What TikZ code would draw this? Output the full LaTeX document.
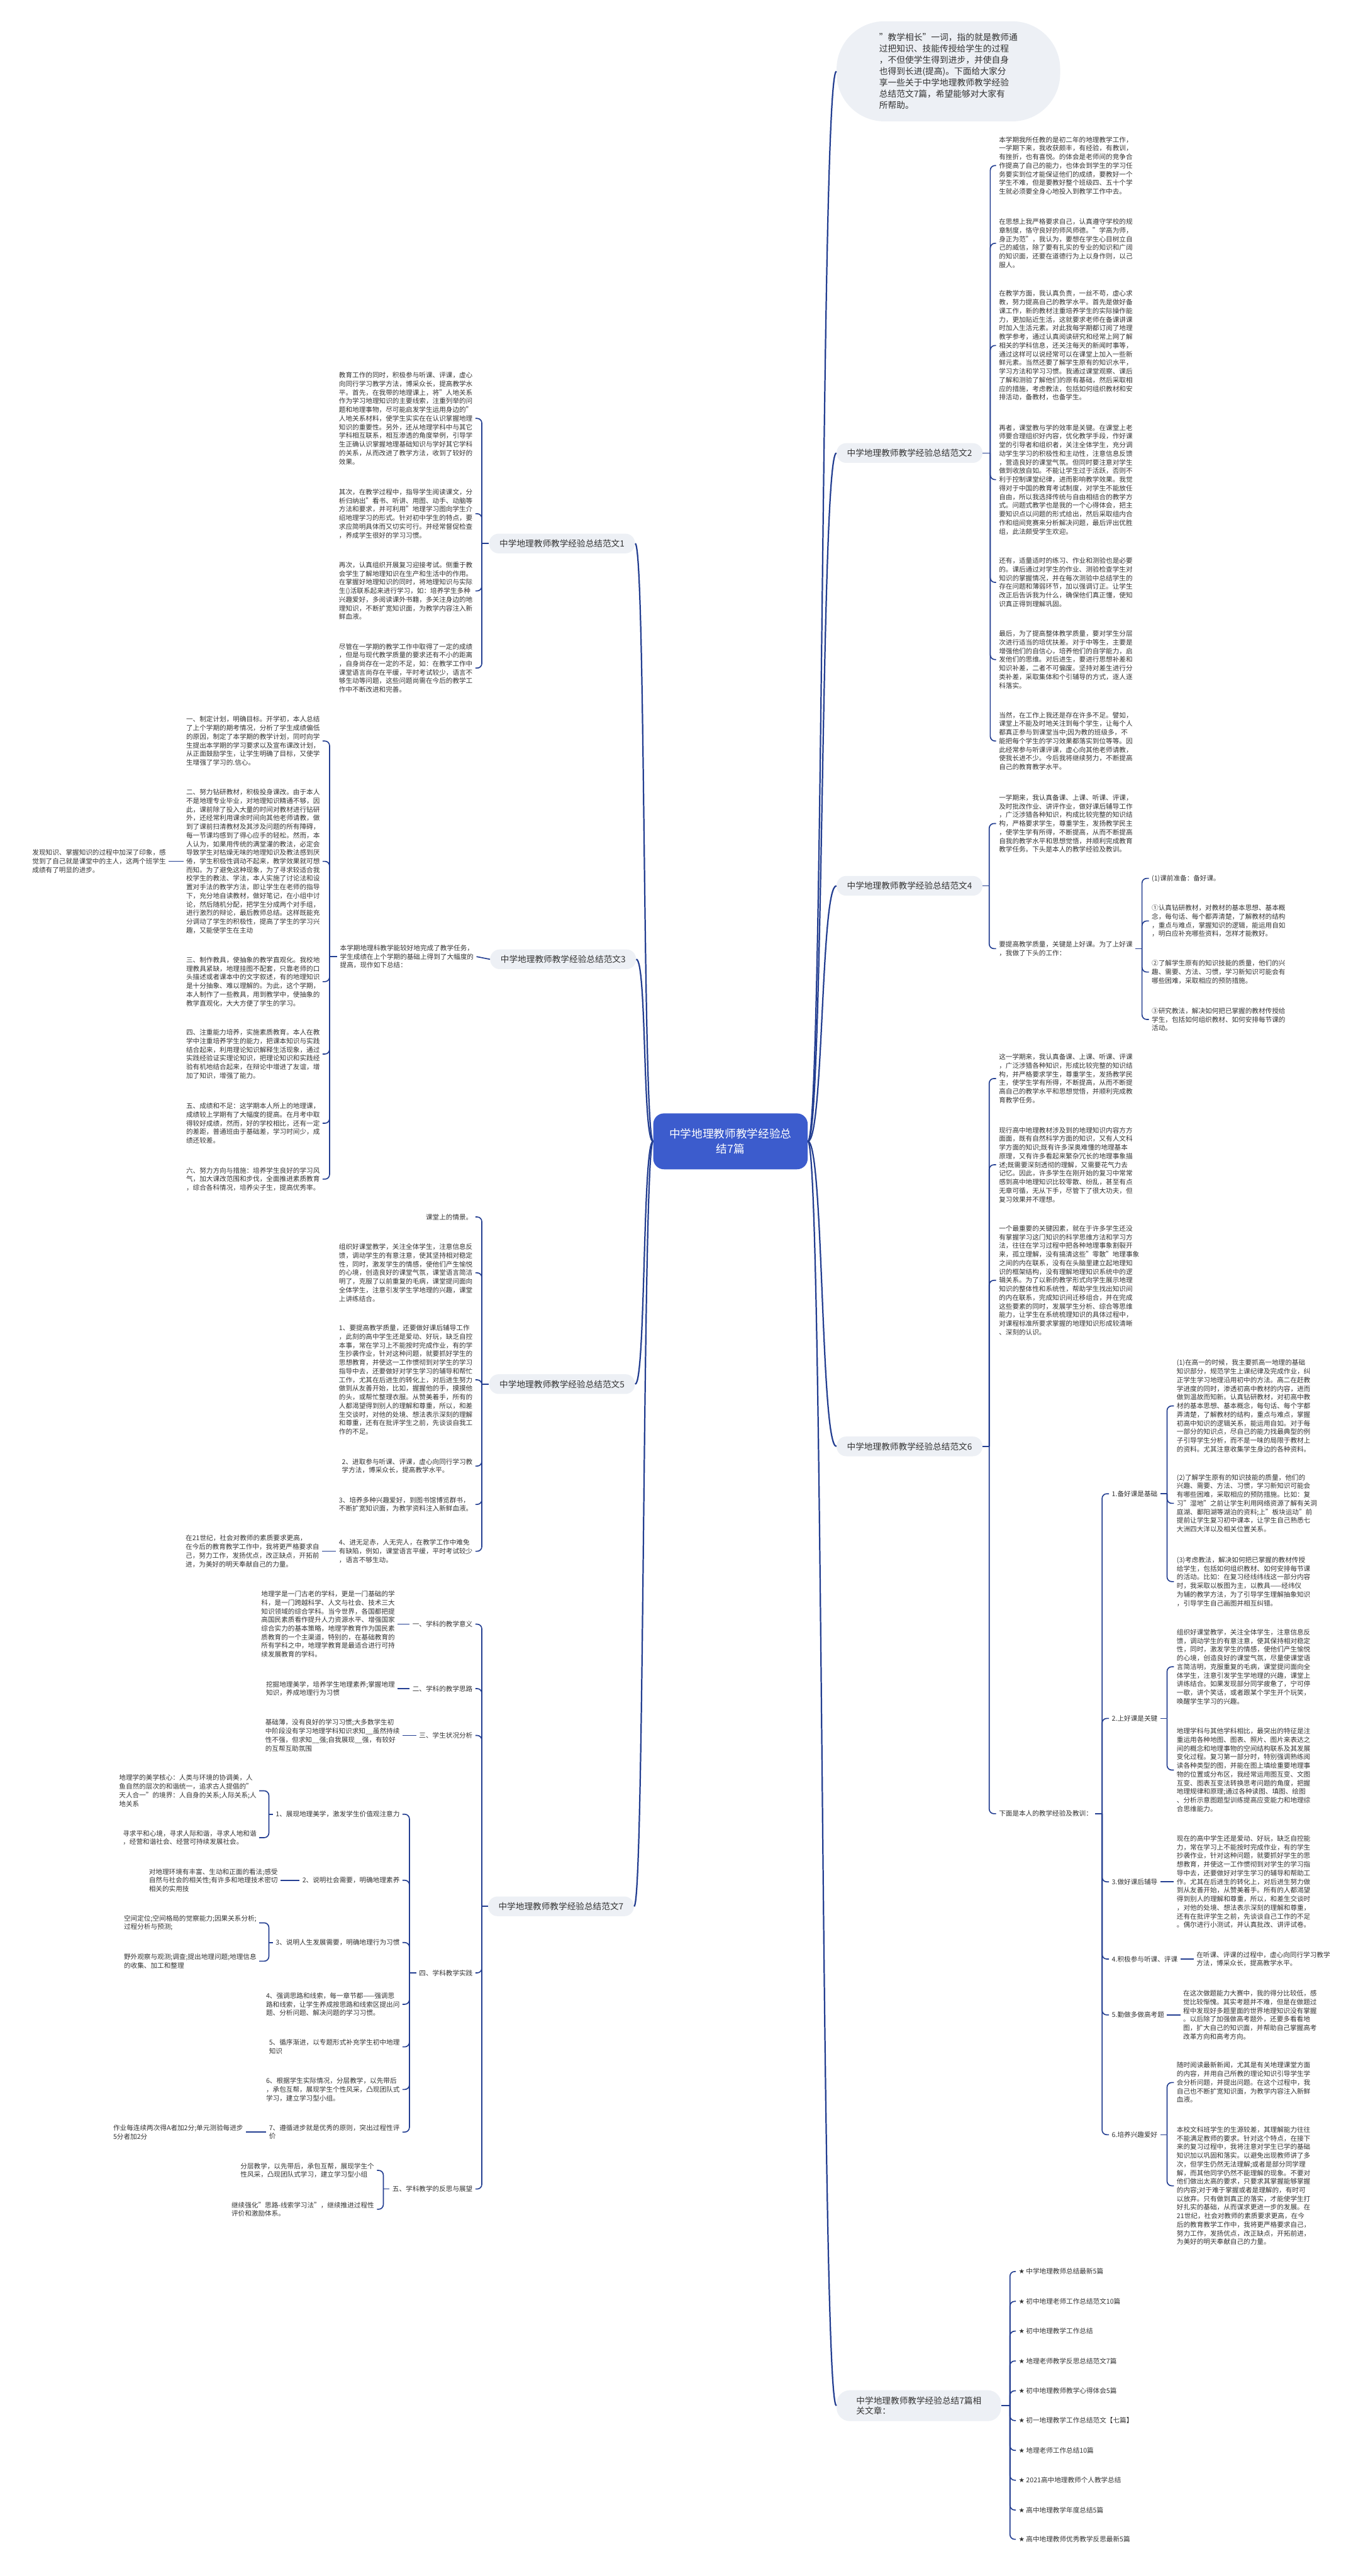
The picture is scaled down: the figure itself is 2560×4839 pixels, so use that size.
\documentclass[tikz,border=0pt]{standalone}
\usepackage{fontspec}
\setmainfont{Noto Sans CJK SC}
\newfontfamily\starfont{DejaVu Sans}
\definecolor{linkblue}{RGB}{35,62,145}
\definecolor{rootblue}{RGB}{60,92,205}
\definecolor{pillgray}{RGB}{237,240,245}
\definecolor{inkgray}{RGB}{51,51,51}
\tikzset{
  para/.style={font=\fontsize{7.14pt}{9.24pt}\selectfont, text=inkgray, align=left, inner xsep=0.1cm, inner ysep=0pt},
  parar/.style={para, align=right},
  topic/.style={font=\fontsize{9.18pt}{11pt}\selectfont, text=inkgray, fill=pillgray, rounded corners=0.36cm,
    minimum width=5.48cm, minimum height=0.74cm, inner xsep=0.2cm},
  link/.style={draw=linkblue, line width=1.1pt, rounded corners=5pt},
  trunk/.style={draw=linkblue, line width=1.5pt},
}
\begin{document}
\begin{tikzpicture}[x=0.02cm,y=-0.02cm]
\useasboundingbox[fill=white] (0,0) rectangle (2560,4839);

% root and intro
\node[fill=rootblue, text=white, rounded corners=0.4cm, minimum width=5.8cm, minimum height=2.1cm, align=center,
  font=\fontsize{11.9pt}{16.4pt}\selectfont] (root) at (1372,2144) {中学地理教师教学经验总\\结7篇};
\node[fill=pillgray, rounded corners=1.8cm, minimum width=8.4cm, minimum height=3.76cm, align=left, text=inkgray,
  font=\fontsize{9.24pt}{12.13pt}\selectfont, anchor=west] (intro) at (1571,134)
  {"教学相长"一词，指的就是教师通\\过把知识、技能传授给学生的过程\\，不但使学生得到进步，并使自身\\也得到长进(提高)。下面给大家分\\享一些关于中学地理教师教学经验\\总结范文7篇，希望能够对大家有\\所帮助。};

% topics
\node[topic, anchor=east] (t1) at (1193,1021) {中学地理教师教学经验总结范文1};
\node[topic, anchor=west] (t2) at (1571,851) {中学地理教师教学经验总结范文2};
\node[topic, anchor=east] (t3) at (1195,1802) {中学地理教师教学经验总结范文3};
\node[topic, anchor=west] (t4) at (1571,1664) {中学地理教师教学经验总结范文4};
\node[topic, anchor=east] (t5) at (1193,2600) {中学地理教师教学经验总结范文5};
\node[topic, anchor=west] (t6) at (1571,2717) {中学地理教师教学经验总结范文6};
\node[topic, anchor=east] (t7) at (1191,3581) {中学地理教师教学经验总结范文7};
\node[topic, anchor=west, align=left, minimum width=6.18cm, minimum height=1.16cm, rounded corners=0.5cm, inner xsep=0.6cm] (hub) at (1571,4519) {中学地理教师教学经验总结7篇相\\关文章：};

\foreach \t in {intro,t2,t4,t6,hub}
  \draw[trunk] (root.east) .. controls +(30,0) and +(-30,0) .. (\t.west);
\foreach \t in {t1,t3,t5,t7}
  \draw[trunk] (root.west) .. controls +(-20,0) and +(20,0) .. (\t.east);

% ---- 范文1
\node[para, anchor=east] (p1a) at (893,786) {教育工作的同时，积极参与听课、评课，虚心\\向同行学习教学方法，博采众长，提高教学水\\平。首先，在我带的地理课上，将"人地关系\\作为学习地理知识的主要线索，注重列举的问\\题和地理事物，尽可能启发学生运用身边的"\\人地关系材料，使学生实实在在认识掌握地理\\知识的重要性。另外，还从地理学科中与其它\\学科相互联系，相互渗透的角度举例，引导学\\生正确认识掌握地理基础知识与学好其它学科\\的关系，从而改进了教学方法，收到了较好的\\效果。};
\node[para, anchor=east] (p1b) at (893,965) {其次，在教学过程中，指导学生阅读课文，分\\析归纳出"看书、听讲、用图、动手、动脑等\\方法和要求，并可利用"地理学习图向学生介\\绍地理学习的形式。针对初中学生的特点，要\\求应简明具体而又切实可行。并经常督促检查\\，养成学生很好的学习习惯。};
\node[para, anchor=east] (p1c) at (893,1110) {再次，认真组织开展复习迎接考试。侧重于教\\会学生了解地理知识在生产和生活中的作用。\\在掌握好地理知识的同时，将地理知识与实际\\生()活联系起来进行学习，如：培养学生多种\\兴趣爱好，多阅读课外书籍，多关注身边的地\\理知识，不断扩宽知识面，为教学内容注入新\\鲜血液。};
\node[para, anchor=east] (p1d) at (893,1255) {尽管在一学期的教学工作中取得了一定的成绩\\，但是与现代教学质量的要求还有不小的距离\\，自身尚存在一定的不足，如：在教学工作中\\课堂语言尚存在平缓，平时考试较少，语言不\\够生动等问题，这些问题尚需在今后的教学工\\作中不断改进和完善。};
\coordinate (j1) at (905,1021);
\draw[link] (t1.west) -- (j1);
\foreach \n in {p1a,p1b,p1c,p1d} \draw[link] (j1) |- (\n.east);

% ---- 范文2
\node[para, anchor=west] (p2a) at (1871,311) {本学期我所任教的是初二年的地理教学工作，\\一学期下来，我收获颇丰，有经验，有教训，\\有挫折，也有喜悦。的体会是老师间的竞争合\\作提高了自己的能力，也体会到学生的学习任\\务要实到位才能保证他们的成绩，要教好一个\\学生不难，但是要教好整个班级四、五十个学\\生就必须要全身心地投入到教学工作中去。};
\node[para, anchor=west] (p2b) at (1871,457) {在思想上我严格要求自己，认真遵守学校的规\\章制度，恪守良好的师风师德。"学高为师，\\身正为范"，我认为，要想在学生心目树立自\\己的威信，除了要有扎实的专业的知识和广阔\\的知识面，还要在道德行为上以身作则，以己\\服人。};
\node[para, anchor=west] (p2c) at (1871,649) {在教学方面，我认真负责，一丝不苟，虚心求\\教，努力提高自己的教学水平。首先是做好备\\课工作，新的教材注重培养学生的实际操作能\\力，更加贴近生活，这就要求老师在备课讲课\\时加入生活元素。对此我每学期都订阅了地理\\教学参考，通过认真阅读研究和经常上网了解\\相关的学科信息，还关注每天的新闻时事等，\\通过这样可以说经常可以在课堂上加入一些新\\鲜元素。当然还要了解学生原有的知识水平，\\学习方法和学习习惯。我通过课堂观察、课后\\了解和测验了解他们的原有基础，然后采取相\\应的措施，考虑教法，包括如何组织教材和安\\排活动，备教材，也备学生。};
\node[para, anchor=west] (p2d) at (1871,901) {再者，课堂教与学的效率是关键。在课堂上老\\师要合理组织好内容，优化教学手段，作好课\\堂的引导者和组织者，关注全体学生，充分调\\动学生学习的积极性和主动性，注意信息反馈\\，营造良好的课堂气氛。但同时要注意对学生\\做到收放自如。不能让学生过于活跃，否则不\\利于控制课堂纪律，进而影响教学效果。我觉\\得对于中国的教育考试制度，对学生不能放任\\自由，所以我选择传统与自由相结合的教学方\\式。问题式教学也是我的一个心得体会，把主\\要知识点以问题的形式给出，然后采取组内合\\作和组间竞赛来分析解决问题，最后评出优胜\\组，此法颇受学生欢迎。};
\node[para, anchor=west] (p2e) at (1871,1094) {还有，适量适时的练习、作业和测验也是必要\\的。课后通过对学生的作业、测验检查学生对\\知识的掌握情况，并在每次测验中总结学生的\\存在问题和薄弱环节，加以强调订正。让学生\\改正后告诉我为什么，确保他们真正懂，使知\\识真正得到理解巩固。};
\node[para, anchor=west] (p2f) at (1871,1239) {最后，为了提高整体教学质量，要对学生分层\\次进行适当的培优扶差。对于中等生，主要是\\增强他们的自信心，培养他们的自学能力，启\\发他们的思维。对后进生，要进行思想补差和\\知识补差，二者不可偏废。坚持对差生进行分\\类补差，采取集体和个引辅导的方式，逐人逐\\科落实。};
\node[para, anchor=west] (p2g) at (1871,1392) {当然，在工作上我还是存在许多不足。譬如，\\课堂上不能及时地关注到每个学生，让每个人\\都真正参与到课堂当中;因为教的班级多，不\\能把每个学生的学习效果都落实到位等等。因\\此经常参与听课评课，虚心向其他老师请教，\\使我长进不少。今后我将继续努力，不断提高\\自己的教育教学水平。};
\coordinate (j2) at (1860,851);
\draw[link] (t2.east) -- (j2);
\foreach \n in {p2a,p2b,p2c,p2d,p2e,p2f,p2g} \draw[link] (j2) |- (\n.west);

% ---- 范文3
\node[para, anchor=east] (p3i) at (895,1797) {本学期地理科教学能较好地完成了教学任务，\\学生成绩在上个学期的基础上得到了大幅度的\\提高，现作如下总结：};
\draw[link] (t3.west) -- (p3i.east);
\node[para, anchor=east] (p3a) at (606,1392) {一、制定计划，明确目标。开学初，本人总结\\了上个学期的期考情况，分析了学生成绩偏低\\的原因，制定了本学期的教学计划，同时向学\\生提出本学期的学习要求以及宣布课改计划，\\从正面鼓励学生，让学生明确了目标，又使学\\生增强了学习的.信心。};
\node[para, anchor=east] (p3b) at (606,1618) {二、努力钻研教材，积极投身课改。由于本人\\不是地理专业毕业，对地理知识精通不够，因\\此，课前除了投入大量的时间对教材进行钻研\\外，还经常利用课余时间向其他老师请教，做\\到了课前扫清教材及其涉及问题的所有障碍，\\每一节课均感到了得心应手的轻松。然而，本\\人认为，如果用传统的满堂灌的教法，必定会\\导致学生对枯燥无味的地理知识及教法感到厌\\倦，学生积极性调动不起来，教学效果就可想\\而知。为了避免这种现象，为了寻求较适合我\\校学生的教法、学法，本人实施了讨论法和设\\置对手法的教学方法，即让学生在老师的指导\\下，充分地自读教材，做好笔记，在小组中讨\\论，然后随机分配，把学生分成两个对手组，\\进行激烈的辩论，最后教师总结。这样既能充\\分调动了学生的积极性，提高了学生的学习兴\\趣，又能使学生在主动};
\node[para, anchor=east] (p3c) at (606,1844) {三、制作教具，使抽象的教学直观化。我校地\\理教具紧缺，地理挂图不配套，只靠老师的口\\头描述或者课本中的文字叙述，有的地理知识\\是十分抽象、难以理解的。为此，这个学期，\\本人制作了一些教具，用到教学中，使抽象的\\教学直观化，大大方便了学生的学习。};
\node[para, anchor=east] (p3d) at (606,1980) {四、注重能力培养，实施素质教育。本人在教\\学中注重培养学生的能力，把课本知识与实践\\结合起来，利用理论知识解释生活现象，通过\\实践经验证实理论知识，把理论知识和实践经\\验有机地结合起来，在辩论中增进了友谊，增\\加了知识，增强了能力。};
\node[para, anchor=east] (p3e) at (606,2110) {五、成绩和不足：这学期本人所上的地理课，\\成绩较上学期有了大幅度的提高。在月考中取\\得较好成绩，然而，好的学校相比，还有一定\\的差距，普通班由于基础差，学习时间少，成\\绩还较差。};
\node[para, anchor=east] (p3f) at (606,2215) {六、努力方向与措施：培养学生良好的学习风\\气，加大课改范围和步伐，全面推进素质教育\\，综合各科情况，培养尖子生，提高优秀率。};
\node[para, anchor=east] (p3b1) at (317,1618) {发现知识、掌握知识的过程中加深了印象，感\\觉到了自己就是课堂中的主人，这两个班学生\\成绩有了明显的进步。};
\coordinate (j3) at (619,1797);
\draw[link] (p3i.west) -- (j3);
\foreach \n in {p3a,p3b,p3c,p3d,p3e,p3f} \draw[link] (j3) |- (\n.east);
\draw[link] (p3b.west) -- (p3b1.east);

% ---- 范文4
\node[para, anchor=west] (p4a) at (1871,1547) {一学期来，我认真备课、上课、听课、评课，\\及时批改作业、讲评作业，做好课后辅导工作\\，广泛涉猎各种知识，构成比较完整的知识结\\构，严格要求学生，尊重学生，发扬教学民主\\，使学生学有所得，不断提高，从而不断提高\\自我的教学水平和思想觉悟，并顺利完成教育\\教学任务。下头是本人的教学经验及教训。};
\node[para, anchor=west] (p4b) at (1871,1782) {要提高教学质量，关键是上好课。为了上好课\\，我做了下头的工作：};
\node[para, anchor=west] (p4b1) at (2158,1650) {(1)课前准备：备好课。};
\node[para, anchor=west] (p4b2) at (2158,1730) {①认真钻研教材，对教材的基本思想、基本概\\念，每句话、每个都弄清楚，了解教材的结构\\，重点与难点，掌握知识的逻辑，能运用自如\\，明白应补充哪些资料，怎样才能教好。};
\node[para, anchor=west] (p4b3) at (2158,1826) {②了解学生原有的知识技能的质量，他们的兴\\趣、需要、方法、习惯，学习新知识可能会有\\哪些困难，采取相应的预防措施。};
\node[para, anchor=west] (p4b4) at (2158,1915) {③研究教法，解决如何把已掌握的教材传授给\\学生，包括如何组织教材、如何安排每节课的\\活动。};
\coordinate (j4) at (1858,1664);
\coordinate (j4b) at (2145,1782);
\draw[link] (t4.east) -- (j4);
\foreach \n in {p4a,p4b} \draw[link] (j4) |- (\n.west);
\draw[link] (p4b.east) -- (j4b);
\foreach \n in {p4b1,p4b2,p4b3,p4b4} \draw[link] (j4b) |- (\n.west);

% ---- 范文5
\node[parar, anchor=east] (p5a) at (893,2286) {课堂上的情景。};
\node[para, anchor=east] (p5b) at (893,2391) {组织好课堂教学，关注全体学生，注意信息反\\馈，调动学生的有意注意，使其坚持相对稳定\\性，同时，激发学生的情感，使他们产生愉悦\\的心境，创造良好的课堂气氛，课堂语言简洁\\明了，克服了以前重复的毛病，课堂提问面向\\全体学生，注意引发学生学地理的兴趣，课堂\\上讲练结合。};
\node[para, anchor=east] (p5c) at (893,2592) {1、要提高教学质量，还要做好课后辅导工作\\，此刻的高中学生还是爱动、好玩，缺乏自控\\本事，常在学习上不能按时完成作业，有的学\\生抄袭作业，针对这种问题，就要抓好学生的\\思想教育，并使这一工作惯彻到对学生的学习\\指导中去，还要做好对学生学习的辅导和帮忙\\工作，尤其在后进生的转化上，对后进生努力\\做到从友善开始，比如，握握他的手，摸摸他\\的头，或帮忙整理衣服。从赞美着手，所有的\\人都渴望得到别人的理解和尊重，所以，和差\\生交谈时，对他的处境、想法表示深刻的理解\\和尊重，还有在批评学生之前，先谈谈自我工\\作的不足。};
\node[para, anchor=east] (p5d) at (893,2754) {2、进取参与听课、评课，虚心向同行学习教\\学方法，博采众长，提高教学水平。};
\node[para, anchor=east] (p5e) at (893,2826) {3、培养多种兴趣爱好，到图书馆博览群书，\\不断扩宽知识面，为教学资料注入新鲜血液。};
\node[para, anchor=east] (p5f) at (893,2914) {4、进无足赤，人无完人，在教学工作中难免\\有缺陷，例如，课堂语言平缓，平时考试较少\\，语言不够生动。};
\node[para, anchor=east] (p5f1) at (605,2914) {在21世纪，社会对教师的素质要求更高，\\在今后的教育教学工作中，我将更严格要求自\\己，努力工作，发扬优点，改正缺点，开拓前\\进，为美好的明天奉献自己的力量。};
\coordinate (j5) at (905,2600);
\draw[link] (t5.west) -- (j5);
\foreach \n in {p5a,p5b,p5c,p5d,p5e,p5f} \draw[link] (j5) |- (\n.east);
\draw[link] (p5f.west) -- (p5f1.east);

% ---- 范文6
\node[para, anchor=west] (p6a) at (1871,2026) {这一学期来，我认真备课、上课、听课、评课\\，广泛涉猎各种知识，形成比较完整的知识结\\构，并严格要求学生，尊重学生，发扬教学民\\主，使学生学有所得，不断提高，从而不断提\\高自己的教学水平和思想觉悟，并顺利完成教\\育教学任务。};
\node[para, anchor=west] (p6b) at (1871,2188) {现行高中地理教材涉及到的地理知识内容方方\\面面，既有自然科学方面的知识，又有人文科\\学方面的知识;既有许多深奥难懂的地理基本\\原理，又有许多看起来繁杂冗长的地理事象描\\述;既需要深刻透彻的理解，又需要花气力去\\记忆。因此，许多学生在刚开始的复习中常常\\感到高中地理知识比较零散、纷乱，甚至有点\\无章可循，无从下手，尽管下了很大功夫，但\\复习效果并不理想。};
\node[para, anchor=west] (p6c) at (1871,2405) {一个最重要的关键因素，就在于许多学生还没\\有掌握学习这门知识的科学思维方法和学习方\\法，往往在学习过程中把各种地理事象割裂开\\来，孤立理解，没有搞清这些"零散"地理事象\\之间的内在联系，没有在头脑里建立起地理知\\识的框架结构，没有理解地理知识系统中的逻\\辑关系。为了以新的教学形式向学生展示地理\\知识的整体性和系统性，帮助学生找出知识间\\的内在联系，完成知识间迁移组合，并在完成\\这些要素的同时，发展学生分析、综合等思维\\能力，让学生在系统梳理知识的具体过程中，\\对课程标准所要求掌握的地理知识形成较清晰\\、深刻的认识。};
\node[para, anchor=west] (p6d) at (1871,3407) {下面是本人的教学经验及教训：};
\node[para, anchor=west] (r1) at (2083,2806) {1.备好课是基础};
\node[para, anchor=west] (r2) at (2083,3228) {2.上好课是关键};
\node[para, anchor=west] (r3) at (2083,3535) {3.做好课后辅导};
\node[para, anchor=west] (r4) at (2083,3680) {4.积极参与听课、评课};
\node[para, anchor=west] (r5) at (2083,3785) {5.勤做多做高考题};
\node[para, anchor=west] (r6) at (2083,4010) {6.培养兴趣爱好};
\node[para, anchor=west] (s1a) at (2205,2641) {(1)在高一的时候，我主要抓高一地理的基础\\知识部分，规范学生上课纪律及完成作业，纠\\正学生学习地理沿用初中的方法。高二在赶教\\学进度的同时，渗透初高中教材的内容，进而\\做到温故而知新。认真钻研教材，对初高中教\\材的基本思想、基本概念，每句话、每个字都\\弄清楚，了解教材的结构，重点与难点，掌握\\初高中知识的逻辑关系，能运用自如。对于每\\一部分的知识点，尽自己的能力找最典型的例\\子引导学生分析，而不是一味的局限于教材上\\的资料。尤其注意收集学生身边的各种资料。};
\node[para, anchor=west] (s1b) at (2205,2824) {(2)了解学生原有的知识技能的质量，他们的\\兴趣、需要、方法、习惯，学习新知识可能会\\有哪些困难，采取相应的预防措施。比如：复\\习"湿地"之前让学生利用网络资源了解有关洞\\庭湖、鄱阳湖等湖泊的资料;上"板块运动"前\\提前让学生复习初中课本，让学生自己熟悉七\\大洲四大洋以及相关位置关系。};
\node[para, anchor=west] (s1c) at (2205,2971) {(3)考虑教法，解决如何把已掌握的教材传授\\给学生，包括如何组织教材、如何安排每节课\\的活动。比如：在复习经线纬线这一部分内容\\时，我采取以板图为主，以教具——经纬仪\\为辅的教学方法，为了引导学生理解抽象知识\\，引导学生自己画图并相互纠错。};
\node[para, anchor=west] (s2a) at (2205,3131) {组织好课堂教学，关注全体学生，注意信息反\\馈，调动学生的有意注意，使其保持相对稳定\\性，同时，激发学生的情感，使他们产生愉悦\\的心境，创造良好的课堂气氛，尽量使课堂语\\言简洁明，克服重复的毛病，课堂提问面向全\\体学生，注意引发学生学地理的兴趣，课堂上\\讲练结合。如果发现部分同学疲惫了，宁可停\\一歇，讲个笑话，或者跟某个学生开个玩笑，\\唤醒学生学习的兴趣。};
\node[para, anchor=west] (s2b) at (2205,3325) {地理学科与其他学科相比，最突出的特征是注\\重运用各种地图、图表、照片、图片来表达之\\间的概念和地理事物的空间结构联系及其发展\\变化过程。复习第一部分时，特别强调熟练阅\\读各种类型的图，并能在图上填绘重要地理事\\物的位置或分布区，我经常运用图互变、文图\\互变、图表互变法转换思考问题的角度，把握\\地理规律和原理;通过各种读图、填图、绘图\\、分析示意图题型训练提高应变能力和地理综\\合思维能力。};
\node[para, anchor=west] (s3a) at (2205,3535) {现在的高中学生还是爱动、好玩，缺乏自控能\\力，常在学习上不能按时完成作业，有的学生\\抄袭作业，针对这种问题，就要抓好学生的思\\想教育，并使这一工作惯彻到对学生的学习指\\导中去，还要做好对学生学习的辅导和帮助工\\作。尤其在后进生的转化上，对后进生努力做\\到从友善开始，从赞美着手。所有的人都渴望\\得到别人的理解和尊重，所以，和差生交谈时\\，对他的处境、想法表示深刻的理解和尊重，\\还有在批评学生之前，先谈谈自己工作的不足\\。偶尔进行小测试，并认真批改、讲评试卷。};
\node[para, anchor=west] (s4a) at (2242,3680) {在听课、评课的过程中，虚心向同行学习教学\\方法，博采众长，提高教学水平。};
\node[para, anchor=west] (s5a) at (2217,3785) {在这次做题能力大赛中，我的得分比较低，感\\觉比较惭愧。其实考题并不难，但是在做题过\\程中发现好多题里面的世界地理知识没有掌握\\。以后除了加强做高考题外，还要多看看地\\图，扩大自己的知识面，并帮助自己掌握高考\\改革方向和高考方向。};
\node[para, anchor=west] (s6a) at (2205,3912) {随时阅读最新新闻，尤其是有关地理课堂方面\\的内容，并用自己所教的理论知识引导学生学\\会分析问题，并提出问题。在这个过程中，我\\自己也不断扩宽知识面，为教学内容注入新鲜\\血液。};
\node[para, anchor=west] (s6b) at (2205,4106) {本校文科班学生的生源较差，其理解能力往往\\不能满足教师的要求。针对这个特点，在接下\\来的复习过程中，我将注意对学生已学的基础\\知识加以巩固和落实。以避免出现教师讲了多\\次，但学生仍然无法理解;或者是部分同学理\\解，而其他同学仍然不能理解的现象。不要对\\他们做出太高的要求，只要求其掌握能够掌握\\的内容;对于难于掌握或者是理解的，有时可\\以放弃。只有做到真正的落实，才能使学生打\\好扎实的基础，从而谋求更进一步的发展。在\\21世纪，社会对教师的素质要求更高，在今\\后的教育教学工作中，我将更严格要求自己，\\努力工作，发扬优点，改正缺点，开拓前进，\\为美好的明天奉献自己的力量。};
\coordinate (j6) at (1858,2717);
\coordinate (j6d) at (2070,3407);
\coordinate (jr1) at (2192,2806);
\coordinate (jr2) at (2192,3228);
\coordinate (jr6) at (2192,4010);
\draw[link] (t6.east) -- (j6);
\foreach \n in {p6a,p6b,p6c,p6d} \draw[link] (j6) |- (\n.west);
\draw[link] (p6d.east) -- (j6d);
\foreach \n in {r1,r2,r3,r4,r5,r6} \draw[link] (j6d) |- (\n.west);
\draw[link] (r1.east) -- (jr1);
\foreach \n in {s1a,s1b,s1c} \draw[link] (jr1) |- (\n.west);
\draw[link] (r2.east) -- (jr2);
\foreach \n in {s2a,s2b} \draw[link] (jr2) |- (\n.west);
\draw[link] (r3.east) -- (s3a.west);
\draw[link] (r4.east) -- (s4a.west);
\draw[link] (r5.east) -- (s5a.west);
\draw[link] (r6.east) -- (jr6);
\foreach \n in {s6a,s6b} \draw[link] (jr6) |- (\n.west);

% ---- 范文7
\node[parar, anchor=east] (p7a) at (893,3051) {一、学科的教学意义};
\node[parar, anchor=east] (p7b) at (893,3172) {二、学科的教学思路};
\node[parar, anchor=east] (p7c) at (893,3260) {三、学生状况分析};
\node[parar, anchor=east] (p7d) at (893,3706) {四、学科教学实践};
\node[parar, anchor=east] (p7e) at (893,4112) {五、学科教学的反思与展望};
\node[para, anchor=east] (p7a1) at (747,3051) {地理学是一门古老的学科，更是一门基础的学\\科，是一门跨越科学、人文与社会、技术三大\\知识领域的综合学科。当今世界，各国都把提\\高国民素质看作提升人力资源水平、增强国家\\综合实力的基本策略，地理学教育作为国民素\\质教育的一个主渠道，特别的，在基础教育的\\所有学科之中，地理学教育是最适合进行可持\\续发展教育的学科。};
\node[para, anchor=east] (p7b1) at (747,3172) {挖掘地理美学，培养学生地理素养;掌握地理\\知识，养成地理行为习惯};
\node[para, anchor=east] (p7c1) at (756,3260) {基础薄，没有良好的学习习惯;大多数学生初\\中阶段没有学习地理学科知识求知\_\_虽然持续\\性不强，但求知\_\_强;自我展现\_\_强，有较好\\的互帮互助氛围};
\node[parar, anchor=east] (u1) at (756,3408) {1、展现地理美学，激发学生价值观注意力};
\node[parar, anchor=east] (u2) at (756,3532) {2、说明社会需要，明确地理素养};
\node[parar, anchor=east] (u3) at (756,3649) {3、说明人生发展需要，明确地理行为习惯};
\node[para, anchor=east] (u4) at (756,3765) {4、强调思路和线索，每一章节都——强调思\\路和线索，让学生养成按思路和线索区提出问\\题、分析问题、解决问题的学习习惯。};
\node[para, anchor=east] (u5) at (756,3845) {5、循序渐进，以专题形式补充学生初中地理\\知识};
\node[para, anchor=east] (u6) at (756,3925) {6、根据学生实际情况，分层教学，以先带后\\，承包互帮，展现学生个性风采，凸现团队式\\学习，建立学习型小组。};
\node[para, anchor=east] (u7) at (756,4005) {7、遵循进步就是优秀的原则，突出过程性评\\价};
\node[para, anchor=east] (u1a) at (487,3364) {地理学的美学核心：人类与环境的协调美，人\\鱼自然的层次的和谐统一，追求古人提倡的"\\天人合一"的境界：人自身的关系;人际关系;人\\地关系};
\node[para, anchor=east] (u1b) at (487,3452) {寻求平和心境，寻求人际和谐，寻求人地和谐\\，经营和谐社会、经营可持续发展社会。};
\node[para, anchor=east] (u2a) at (527,3532) {对地理环境有丰富、生动和正面的看法;感受\\自然与社会的相关性;有许多和地理技术密切\\相关的实用技};
\node[para, anchor=east] (u3a) at (487,3612) {空间定位;空间格局的觉察能力;因果关系分析;\\过程分析与预测;};
\node[para, anchor=east] (u3b) at (487,3684) {野外观察与观测;调查;提出地理问题;地理信息\\的收集、加工和整理};
\node[para, anchor=east] (u7a) at (462,4005) {作业每连续两次得A者加2分;单元测验每进步\\5分者加2分};
\node[para, anchor=east] (p7e1) at (708,4077) {分层教学，以先带后，承包互帮，展现学生个\\性风采，凸现团队式学习，建立学习型小组};
\node[para, anchor=east] (p7e2) at (708,4150) {继续强化"思路-线索学习法"，继续推进过程性\\评价和激励体系。};
\coordinate (j7) at (905,3581);
\coordinate (j7d) at (769,3706);
\coordinate (ju1) at (505,3408);
\coordinate (ju3) at (505,3649);
\coordinate (j7e) at (720,4112);
\draw[link] (t7.west) -- (j7);
\foreach \n in {p7a,p7b,p7c,p7d,p7e} \draw[link] (j7) |- (\n.east);
\draw[link] (p7a.west) -- (p7a1.east);
\draw[link] (p7b.west) -- (p7b1.east);
\draw[link] (p7c.west) -- (p7c1.east);
\draw[link] (p7d.west) -- (j7d);
\foreach \n in {u1,u2,u3,u4,u5,u6,u7} \draw[link] (j7d) |- (\n.east);
\draw[link] (u1.west) -- (ju1);
\foreach \n in {u1a,u1b} \draw[link] (ju1) |- (\n.east);
\draw[link] (u2.west) -- (u2a.east);
\draw[link] (u3.west) -- (ju3);
\foreach \n in {u3a,u3b} \draw[link] (ju3) |- (\n.east);
\draw[link] (u7.west) -- (u7a.east);
\draw[link] (p7e.west) -- (j7e);
\foreach \n in {p7e1,p7e2} \draw[link] (j7e) |- (\n.east);

% ---- related articles
\node[para, anchor=west] (h0) at (1908,4267) {{\starfont ★} 中学地理教师总结最新5篇};
\node[para, anchor=west] (h1) at (1908,4323) {{\starfont ★} 初中地理老师工作总结范文10篇};
\node[para, anchor=west] (h2) at (1908,4379) {{\starfont ★} 初中地理教学工作总结};
\node[para, anchor=west] (h3) at (1908,4435) {{\starfont ★} 地理老师教学反思总结范文7篇};
\node[para, anchor=west] (h4) at (1908,4491) {{\starfont ★} 初中地理教师教学心得体会5篇};
\node[para, anchor=west] (h5) at (1908,4547) {{\starfont ★} 初一地理教学工作总结范文【七篇】};
\node[para, anchor=west] (h6) at (1908,4603) {{\starfont ★} 地理老师工作总结10篇};
\node[para, anchor=west] (h7) at (1908,4659) {{\starfont ★} 2021高中地理教师个人教学总结};
\node[para, anchor=west] (h8) at (1908,4715) {{\starfont ★} 高中地理教学年度总结5篇};
\node[para, anchor=west] (h9) at (1908,4770) {{\starfont ★} 高中地理教师优秀教学反思最新5篇};
\coordinate (jh) at (1897,4519);
\draw[link] (hub.east) -- (jh);
\foreach \n in {h0,h1,h2,h3,h4,h5,h6,h7,h8,h9} \draw[link] (jh) |- (\n.west);
\end{tikzpicture}
\end{document}
